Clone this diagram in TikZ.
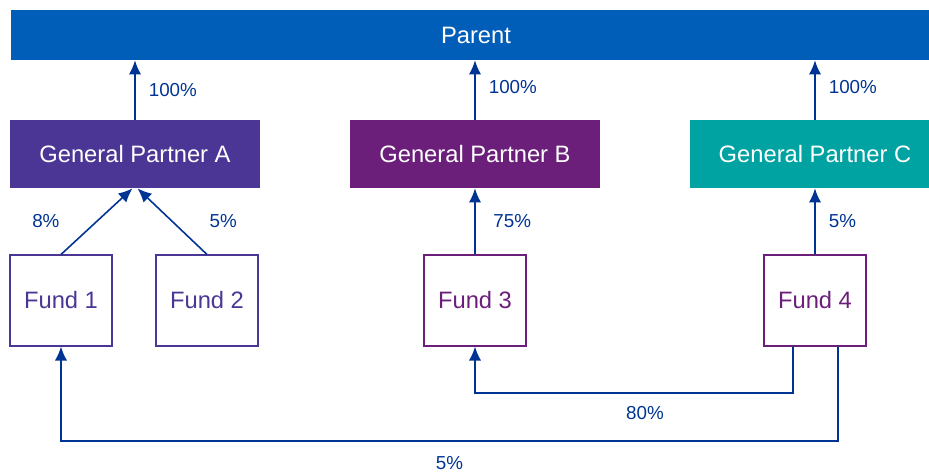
\documentclass[tikz,border=0pt]{standalone}
\usepackage{fontspec}
\setmainfont{Liberation Sans}
\usepackage{xcolor}
\usetikzlibrary{arrows.meta,calc}
\definecolor{parentblue}{RGB}{0,94,184}
\definecolor{gpviolet}{RGB}{75,54,150}
\definecolor{gpplum}{RGB}{107,31,122}
\definecolor{gpteal}{RGB}{0,163,161}
\definecolor{linkblue}{RGB}{0,52,148}

\begin{document}
\begin{tikzpicture}[
  boxfont/.style={font=\fontsize{13.5}{16}\selectfont},
  gpbox/.style={boxfont, minimum width=5cm, minimum height=1.36cm, inner sep=0pt, text=white},
  fundbox/.style={boxfont, draw=#1, fill=white, text=#1, minimum width=2.04cm, minimum height=1.82cm, inner sep=0pt, line width=0.6pt},
  link/.style={draw=linkblue, line width=0.9pt, -{Latex[length=8pt,width=7pt]}},
  pct/.style={text=linkblue, font=\fontsize{10.7}{13}\selectfont, inner sep=2pt}
]
\useasboundingbox (0,0) rectangle (18.58,-9.44);
\clip (0,0) rectangle (18.58,-9.44);
\def\gpy{-3.08}
\def\fundy{-6.01}

\node[boxfont, fill=parentblue, text=white, minimum width=18.6cm, minimum height=1cm, inner sep=0pt] (parent) at (9.52,-0.7) {Parent};

\foreach \name/\x/\col/\ltr in {gpa/2.7/gpviolet/A, gpb/9.5/gpplum/B, gpc/16.3/gpteal/C} {
  \node[gpbox, fill=\col] (\name) at (\x,\gpy) {General Partner \ltr};
}
\foreach \name/\x/\col/\n in {f1/1.22/gpviolet/1, f2/4.14/gpviolet/2, f3/9.5/gpplum/3, f4/16.3/gpplum/4} {
  \node[fundbox=\col] (\name) at (\x,\fundy) {Fund \n};
}

% partners up to the parent
\foreach \g/\dy in {gpa/0, gpb/0.06, gpc/0.06} {
  \draw[link] (\g.north) -- (\g.north |- parent.south) node[pct, midway, right=5.4pt, yshift=\dy cm] {100\%};
}

% funds up to the partners
\draw[link] (f1.north) -- ([xshift=-0.05cm]gpa.south) node[pct, midway, left=0.66cm] {8\%};
\draw[link] (f2.north) -- ([xshift=0.05cm]gpa.south) node[pct, midway, right=0.66cm] {5\%};
\draw[link] (f3.north) -- (gpb.south) node[pct, midway, right=8pt] {75\%};
\draw[link] (f4.north) -- (gpc.south) node[pct, midway, right=5.4pt] {5\%};

% cross holdings of fund 4
\coordinate (low80) at (9.5,-7.86);
\coordinate (low5) at (1.22,-8.82);
\draw[link] ([xshift=-0.44cm]f4.south) |- node[pct, pos=0.75, below=5pt, xshift=0.22cm] {80\%} (low80) -- (f3.south);
\draw[link] ([xshift=0.46cm]f4.south) |- node[pct, pos=0.75, below=6.5pt] {5\%} (low5) -- (f1.south);
\end{tikzpicture}
\end{document}
